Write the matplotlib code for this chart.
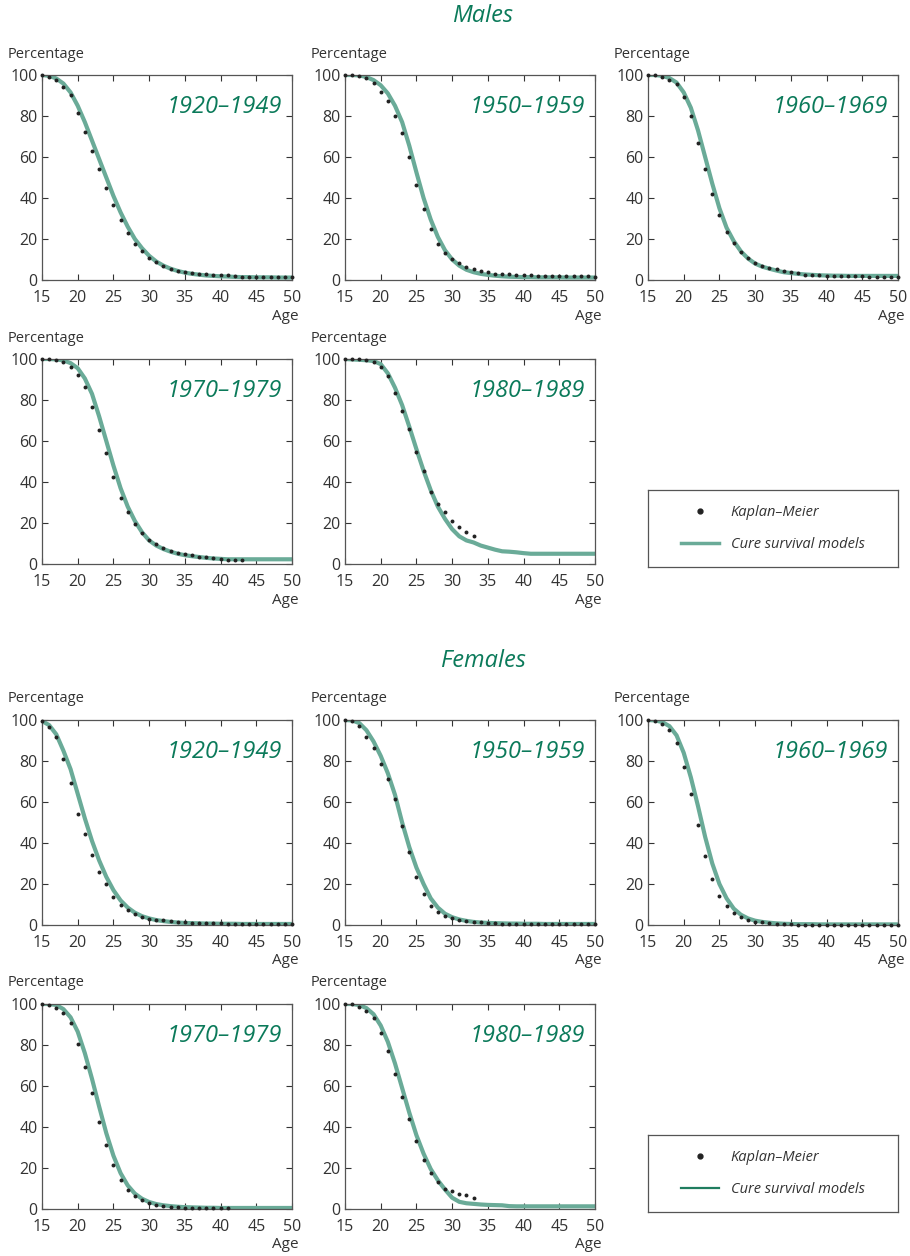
import matplotlib.pyplot as plt
from matplotlib.lines import Line2D

plt.rcParams['font.family'] = ['Open Sans', 'DejaVu Sans']

ages = list(range(15, 51))
cohorts = ["1920–1949", "1950–1959", "1960–1969", "1970–1979", "1980–1989"]

# Kaplan-Meier estimates (percent), by age from 15
km_males = [
    [100, 99, 97.4, 94.3, 90, 81.4, 72.4, 63, 54, 45, 36.6, 29.2, 22.7, 17.7, 14.1, 10.9,
     8.8, 6.8, 5.5, 4.5, 3.7, 3.6, 3.1, 2.8, 2.3, 2.3, 2.3, 1.8, 1.6, 1.6, 1.6, 1.6, 1.6, 1.4, 1.3, 1.3],
    [100, 100, 99.5, 98.4, 96.3, 91.9, 87.5, 80, 71.8, 60, 46.4, 34.4, 25.1, 17.7, 13.3, 10,
     8.3, 6.3, 5.2, 4.5, 3.9, 3.1, 3.1, 2.8, 2.4, 2.4, 2.3, 2.0, 2.0, 2.0, 2.0, 2.0, 2.0, 1.9, 1.9, 1.3],
    [100, 100, 99.2, 97.7, 95.6, 89.1, 80.2, 66.8, 54.1, 42.1, 31.5, 23.3, 18, 13.5, 10.6, 8.1,
     6.7, 5.7, 5.2, 4.6, 4.1, 3.4, 2.6, 2.6, 2.6, 2.1, 2.0, 2.0, 2.0, 2.0, 2.0, 1.5, 1.5, 1.5, 1.5, 1.5],
    [100, 100, 99.5, 98.4, 96.1, 92.4, 86.4, 76.7, 65.6, 54.3, 42.3, 32.4, 25.3, 19.3, 15.1, 11.8,
     9.6, 7.8, 6.3, 5.5, 4.7, 4.2, 3.6, 3.6, 3.1, 2.6, 1.9, 1.9, 1.9],
    [100, 100, 100, 99.4, 98.5, 96.3, 91.6, 83.6, 74.6, 66, 54.6, 45.4, 35.2, 29.3, 25.3, 21.2,
     18, 15.6, 13.8],
]
km_females = [
    [99.7, 96.7, 91.7, 80.9, 69.5, 54.2, 44.3, 34.2, 26, 19.9, 13.8, 9.9, 7.5, 5.2, 4.1, 3.1,
     2.6, 2.3, 1.8, 1.3, 1.3, 1.0, 1.0, 1.0, 1.0, 1.0, 0.7, 0.7, 0.7, 0.7, 0.7, 0.7, 0.7, 0.7, 0.7, 0.7],
    [100, 99.5, 96.9, 91.9, 86.5, 78.5, 71.2, 61.5, 48.1, 35.8, 23.4, 15.1, 9.1, 6.3, 4.6, 3.3,
     2.4, 2.0, 1.5, 1.5, 1.1, 1.1, 0.7, 0.7, 0.7, 0.7, 0.3, 0.3, 0.3, 0.3, 0.3, 0.3, 0.3, 0.3, 0.3, 0.3],
    [100, 99.3, 98.2, 94.9, 88.9, 77, 64, 48.6, 33.7, 22.4, 14.2, 9.3, 5.9, 3.9, 2.6, 1.6,
     1.3, 1.1, 0.7, 0.7, 0.7, 0.2, 0.2, 0.2, 0.2, 0.2, 0.2, 0.2, 0.2, 0.2, 0.2, 0.2, 0.2, 0.2, 0.2, 0.2],
    [100, 99.5, 98.2, 95.5, 90.7, 80.4, 69.3, 56.5, 42.5, 31, 21.3, 14.1, 9.4, 6.5, 4.5, 3.1,
     2.1, 1.6, 1.1, 1.1, 0.6, 0.3, 0.3, 0.3, 0.3, 0.3, 0.3],
    [100, 99.8, 98.7, 96.6, 93, 85.7, 76.9, 65.9, 54.5, 44, 33.1, 23.7, 17.5, 13, 9.7, 8.8,
     7.1, 6.7, 5.5],
]

# cure survival model fits, ages 15..50
cure_males = [
    [100, 99.6, 98.3, 95.8, 91.5, 85, 77, 68, 59, 50, 41, 33, 26, 20, 15.5, 11.8,
     9, 7, 5.5, 4.4, 3.6, 3.0, 2.6, 2.2, 2.0, 1.8, 1.7, 1.5, 1.4, 1.4, 1.3, 1.3, 1.3, 1.2, 1.2, 1.2],
    [100, 100, 99.8, 99, 97.5, 95, 91, 85, 77, 65.5, 52.5, 40, 29.5, 21, 14.5, 10,
     7, 5, 3.8, 3, 2.5, 2.1, 1.8, 1.6, 1.5, 1.4, 1.4, 1.3, 1.3, 1.3, 1.3, 1.2, 1.2, 1.2, 1.2, 1.2],
    [100, 100, 99.6, 98.5, 96.3, 91.5, 84, 73, 60, 47, 35, 25.5, 19, 14, 10.5, 8,
     6.5, 5.5, 4.6, 3.8, 3.4, 3.0, 2.7, 2.5, 2.3, 2.2, 2.1, 2.1, 2.0, 2.0, 2.0, 2.0, 2.0, 2.0, 2.0, 2.0],
    [100, 100, 99.8, 99.3, 98, 95.5, 90.5, 83, 72, 60, 48, 37, 28, 21, 15.5, 11.5,
     9, 7.3, 6, 5, 4.3, 3.8, 3.4, 3.0, 2.7, 2.5, 2.3, 2.3, 2.3, 2.3, 2.3, 2.3, 2.3, 2.3, 2.3, 2.3],
    [100, 99.8, 99.6, 99.4, 99, 97.5, 93, 86, 77.5, 67, 56, 45.5, 36, 28, 22, 17,
     13.5, 11.5, 10.5, 9, 8, 7, 6.2, 6, 5.7, 5.3, 5.0, 5.0, 5.0, 5.0, 5.0, 5.0, 5.0, 5.0, 5.0, 5.0],
]
cure_females = [
    [99.5, 97.5, 93, 85, 76, 64, 52, 41, 31.5, 23.5, 17, 12, 8.5, 6, 4.3, 3.2,
     2.4, 1.9, 1.5, 1.2, 1.0, 0.9, 0.8, 0.7, 0.7, 0.6, 0.6, 0.6, 0.5, 0.5, 0.5, 0.5, 0.5, 0.5, 0.5, 0.5],
    [100, 99.8, 98.5, 95, 89.5, 82.5, 74, 63.5, 50, 38, 28, 20, 13, 8.5, 5.5, 3.8,
     2.7, 2.0, 1.5, 1.2, 1.0, 0.9, 0.8, 0.7, 0.7, 0.6, 0.6, 0.6, 0.5, 0.5, 0.5, 0.5, 0.5, 0.5, 0.5, 0.5],
    [100, 99.8, 99, 97, 92.5, 84, 72, 58, 43, 30, 20, 13, 8, 5, 3.2, 2.1,
     1.5, 1.1, 0.8, 0.6, 0.5, 0.4, 0.4, 0.4, 0.3, 0.3, 0.3, 0.3, 0.3, 0.3, 0.3, 0.3, 0.3, 0.3, 0.3, 0.3],
    [100, 100, 99.5, 97.5, 93.5, 86.5, 76, 63.5, 50, 37, 26, 17.5, 11.5, 7.5, 5, 3.4,
     2.4, 1.8, 1.4, 1.1, 0.9, 0.8, 0.7, 0.6, 0.6, 0.5, 0.5, 0.5, 0.5, 0.5, 0.5, 0.5, 0.5, 0.5, 0.5, 0.5],
    [100, 100, 99.5, 98, 95, 89.5, 81.5, 71, 59, 47, 36, 27, 19.5, 14, 9.5, 5.5,
     3.5, 2.8, 2.5, 2.2, 2.0, 1.9, 1.8, 1.4, 1.3, 1.3, 1.3, 1.3, 1.3, 1.3, 1.3, 1.3, 1.3, 1.3, 1.3, 1.3],
]

W, H = 910, 1256
CURVE = "#6aab98"
GREEN = "#0b7a5a"
TEXT = "#333333"

fig = plt.figure(figsize=(W / 100, H / 100), dpi=100)

col_left = [42, 345, 648]
ax_w, ax_h = 250, 205


def px_axes(x0, y0, w, h):
    return fig.add_axes([x0 / W, 1 - (y0 + h) / H, w / W, h / H])


def panel(x0, y0, label, km, cure):
    ax = px_axes(x0, y0, ax_w, ax_h)
    ax.plot(ages[:len(cure)], cure, color=CURVE, lw=3, solid_capstyle="butt", zorder=2)
    ax.scatter(ages[:len(km)], km, s=8, color="#222222", zorder=3, clip_on=False, linewidths=0)
    ax.set_xlim(15, 50)
    ax.set_ylim(0, 100)
    ax.set_xticks(range(15, 51, 5))
    ax.set_yticks(range(0, 101, 20))
    ax.tick_params(direction="in", length=4, width=0.8, top=True, right=True,
                   labelsize=11.5, colors=TEXT)
    ax.tick_params(axis="x", pad=7.5)
    ax.tick_params(axis="y", pad=3)
    for sp in ax.spines.values():
        sp.set_color("#555555")
        sp.set_linewidth(0.9)
    ax.text(0.96, 0.845, label, transform=ax.transAxes, ha="right", va="center",
            fontsize=17, style="italic", color=GREEN)
    fig.text((x0 - 34) / W, 1 - (y0 - 21) / H, "Percentage", fontsize=10.5,
             color=TEXT, ha="left", va="center")
    fig.text((x0 + 257) / W, 1 - (y0 + ax_h + 36) / H, "Age",
             fontsize=11, color=TEXT, ha="right", va="center")
    return ax


def legend_box(y0, line_color, lw):
    ax = px_axes(648, y0, 250, 77)
    ax.set_xticks([])
    ax.set_yticks([])
    for sp in ax.spines.values():
        sp.set_color("#555555")
        sp.set_linewidth(0.9)
    handles = [
        Line2D([], [], ls="none", marker="o", ms=3.5, color="#222222"),
        Line2D([], [], color=line_color, lw=lw),
    ]
    leg = ax.legend(handles, ["Kaplan–Meier", "Cure survival models"], loc="center",
                    frameon=False, prop={"style": "italic", "size": 10.5},
                    handlelength=2.6, labelspacing=1.15, handletextpad=0.8)
    for t in leg.get_texts():
        t.set_color(TEXT)


def block(top, title, km_all, cure_all, legend_color, legend_lw):
    fig.text(483 / W, 1 - (top - 59) / H, title, fontsize=17, style="italic",
             color=GREEN, ha="center", va="center")
    rows = [top, top + 284]
    for i, label in enumerate(cohorts):
        r, c = divmod(i, 3)
        panel(col_left[c], rows[r], label, km_all[i], cure_all[i])
    legend_box(top + 415, legend_color, legend_lw)


block(75, "Males", km_males, cure_males, CURVE, 2.5)
block(720, "Females", km_females, cure_females, "#1f7d5f", 1.6)

fig.savefig("out.png", dpi=100)
